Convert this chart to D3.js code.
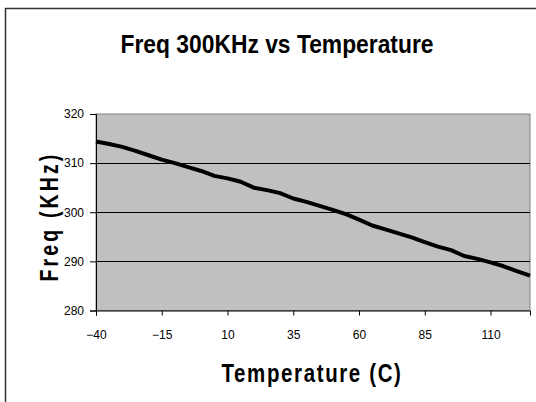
<!DOCTYPE html>
<html>
<head>
<meta charset="utf-8">
<script src="https://cdn.jsdelivr.net/npm/d3@7"></script>
<style>
  body { margin: 0; background: #fff; }
  svg { display: block; font-family: "Liberation Sans", Arial, sans-serif; }
</style>
</head>
<body>
<svg id="chart" width="536" height="402"></svg>
<script>
// temperature (C) and measured frequency (KHz)
var temps = [-40, -35, -30, -25, -20, -15, -10, -5, 0, 5, 10, 15, 20, 25, 30, 35, 40,
             45, 50, 55, 60, 65, 70, 75, 80, 85, 90, 95, 100, 105, 110, 115, 120, 125];
var freqs = [314.4, 313.9, 313.3, 312.5, 311.6, 310.7, 310.0, 309.2, 308.4, 307.4, 306.9,
             306.2, 305.0, 304.5, 303.9, 302.8, 302.1, 301.3, 300.5, 299.6, 298.5, 297.3,
             296.5, 295.7, 294.9, 293.9, 293.0, 292.3, 291.1, 290.5, 289.8, 289.0, 288.0, 287.1];
var xTicks = [-40, -15, 10, 35, 60, 85, 110];
var yTicks = [280, 290, 300, 310, 320];

var svg = d3.select("#chart");

// frame (only left + top show in the picture)
svg.append("path").attr("d", "M5.5,402 V8.5 H536").attr("fill", "none")
  .attr("stroke", "#333").attr("stroke-width", 1.5);

var pLeft = 96, pRight = 530, pTop = 114, pBottom = 310.5;

var x = d3.scaleLinear().domain([-40, 125]).range([pLeft, pRight]);
var y = d3.scaleLinear().domain([280, 320]).range([pBottom, pTop]);

// plot area
svg.append("rect").attr("x", pLeft).attr("y", pTop)
  .attr("width", pRight - pLeft).attr("height", pBottom - pTop)
  .attr("fill", "#c0c0c0").attr("stroke", "#808080").attr("stroke-width", 1);

// gridlines
svg.append("g").selectAll("line").data(yTicks.slice(1, 4)).enter().append("line")
  .attr("x1", pLeft).attr("x2", pRight)
  .attr("y1", function(d) { return Math.round(y(d)) + 0.5; })
  .attr("y2", function(d) { return Math.round(y(d)) + 0.5; })
  .attr("stroke", "#000").attr("stroke-width", 1);

// axes
var xAxis = svg.append("g").attr("transform", "translate(0," + pBottom + ")")
  .call(d3.axisBottom(x).tickValues(xTicks).tickSize(5).tickPadding(15));
var yAxis = svg.append("g").attr("transform", "translate(" + pLeft + ",0)")
  .call(d3.axisLeft(y).tickValues(yTicks).tickSize(6).tickPadding(6));

[xAxis, yAxis].forEach(function(g) {
  g.select(".domain").attr("stroke", "#000");
  g.selectAll(".tick line").attr("stroke", "#000");
  g.selectAll("text").attr("font-size", 12).attr("fill", "#000")
    .attr("font-family", "Liberation Sans, Arial, sans-serif");
});

// data line
var line = d3.line()
  .x(function(d, i) { return x(temps[i]); })
  .y(function(d) { return y(d); });
svg.append("path").datum(freqs).attr("d", line)
  .attr("fill", "none").attr("stroke", "#000").attr("stroke-width", 4)
  .attr("stroke-linejoin", "round");

// title + axis titles (narrow, tall lettering like the original)
svg.append("text").attr("x", 277).attr("y", 53).attr("text-anchor", "middle")
  .attr("font-size", 25).attr("font-weight", "bold")
  .attr("textLength", 313).attr("lengthAdjust", "spacingAndGlyphs")
  .text("Freq 300KHz vs Temperature");

svg.append("text").attr("x", 312).attr("y", 381.5).attr("text-anchor", "middle")
  .attr("font-size", 25).attr("font-weight", "bold").attr("letter-spacing", 2)
  .attr("textLength", 181).attr("lengthAdjust", "spacingAndGlyphs")
  .text("Temperature (C)");

svg.append("text").attr("transform", "translate(57.5,216.5) rotate(-90)")
  .attr("text-anchor", "middle").attr("font-size", 25).attr("font-weight", "bold")
  .attr("letter-spacing", 4)
  .attr("textLength", 130).attr("lengthAdjust", "spacingAndGlyphs")
  .text("Freq (KHz)");
</script>
</body>
</html>
